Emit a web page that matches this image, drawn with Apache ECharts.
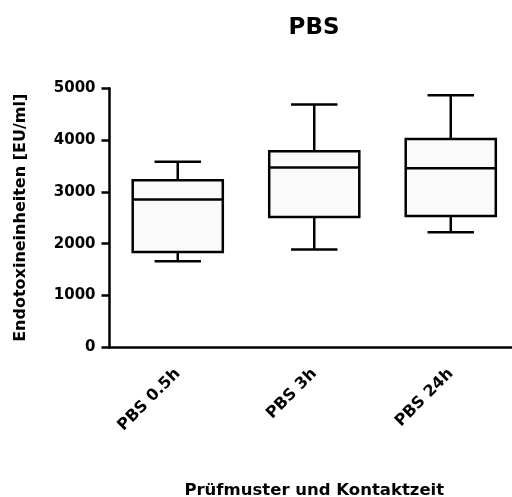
<!DOCTYPE html>
<html>
<head>
<meta charset="utf-8">
<script src="https://cdn.jsdelivr.net/npm/echarts@6/dist/echarts.min.js"></script>
<style>
  html, body { margin: 0; padding: 0; background: #fff; }
  #chart { width: 512px; height: 497px; }
</style>
</head>
<body>
<div id="chart"></div>
<script>
// Box-and-whisker summary per sample and contact time
const categories = ['PBS 0.5h', 'PBS 3h', 'PBS 24h'];
const whiskerLow  = [1660, 1890, 2220];
const quartile1   = [1840, 2515, 2535];
const medians     = [2855, 3470, 3455];
const quartile3   = [3225, 3785, 4020];
const whiskerHigh = [3580, 4685, 4865];
const yTicks = [0, 1000, 2000, 3000, 4000, 5000];

const boxData = categories.map((c, i) => [
  i, whiskerLow[i], quartile1[i], medians[i], quartile3[i], whiskerHigh[i]
]);

const FONT = 'DejaVu Sans';
const LW = 2.5;

function renderBox(params, api) {
  const i = api.value(0);
  const pLow = api.coord([i, api.value(1)]);
  const pQ1 = api.coord([i, api.value(2)]);
  const pMed = api.coord([i, api.value(3)]);
  const pQ3 = api.coord([i, api.value(4)]);
  const pHigh = api.coord([i, api.value(5)]);
  const band = api.size([1, 0])[0];
  const half = band * 0.33;
  const cap = band * 0.17;
  const cx = pMed[0];
  const line = { stroke: '#000', lineWidth: LW };
  return {
    type: 'group',
    children: [
      { type: 'line', shape: { x1: cx, y1: pLow[1], x2: cx, y2: pQ1[1] }, style: line },
      { type: 'line', shape: { x1: cx, y1: pQ3[1], x2: cx, y2: pHigh[1] }, style: line },
      { type: 'rect', shape: { x: cx - half, y: pQ3[1], width: half * 2, height: pQ1[1] - pQ3[1] },
        style: { fill: '#fafafa', stroke: '#000', lineWidth: LW } },
      { type: 'line', shape: { x1: cx - half, y1: pMed[1], x2: cx + half, y2: pMed[1] }, style: line },
      { type: 'line', shape: { x1: cx - cap, y1: pLow[1], x2: cx + cap, y2: pLow[1] }, style: line },
      { type: 'line', shape: { x1: cx - cap, y1: pHigh[1], x2: cx + cap, y2: pHigh[1] }, style: line }
    ]
  };
}

const chart = echarts.init(document.getElementById('chart'), null, { renderer: 'canvas' });
chart.setOption({
  animation: false,
  backgroundColor: '#fff',
  title: {
    text: 'PBS',
    left: 309,
    top: 12,
    textAlign: 'center',
    textStyle: { fontFamily: FONT, fontWeight: 'bold', fontSize: 23, color: '#000' }
  },
  grid: {
    left: 109.5, right: -7, top: 88.3, bottom: 149.7,
    containLabel: false, outerBoundsMode: 'none'
  },
  xAxis: {
    type: 'category',
    data: categories,
    boundaryGap: true,
    name: 'Prüfmuster und Kontaktzeit',
    nameLocation: 'middle',
    nameGap: 135,
    nameTextStyle: { fontFamily: FONT, fontWeight: 'bold', fontSize: 16.5, color: '#000' },
    axisLine: { lineStyle: { color: '#000', width: LW } },
    axisTick: { alignWithLabel: true, length: 7, lineStyle: { color: '#000', width: LW } },
    axisLabel: {
      rotate: 45, margin: 24, interval: 0,
      fontFamily: FONT, fontWeight: 'bold', fontSize: 16, color: '#000'
    },
    splitLine: { show: false }
  },
  yAxis: {
    type: 'value',
    min: yTicks[0],
    max: yTicks[yTicks.length - 1],
    interval: 1000,
    name: 'Endotoxineinheiten [EU/ml]',
    nameLocation: 'middle',
    nameGap: 81,
    nameTextStyle: { fontFamily: FONT, fontWeight: 'bold', fontSize: 16, color: '#000' },
    axisLine: { show: true, lineStyle: { color: '#000', width: LW } },
    axisTick: { show: true, length: 8, lineStyle: { color: '#000', width: LW } },
    axisLabel: {
      margin: 14, fontFamily: FONT, fontWeight: 'bold', fontSize: 15, color: '#000',
      formatter: (v) => String(v)
    },
    splitLine: { show: false }
  },
  series: [{
    type: 'custom',
    renderItem: renderBox,
    encode: { x: 0, y: [1, 2, 3, 4, 5] },
    data: boxData,
    clip: false
  }]
});
</script>
</body>
</html>
